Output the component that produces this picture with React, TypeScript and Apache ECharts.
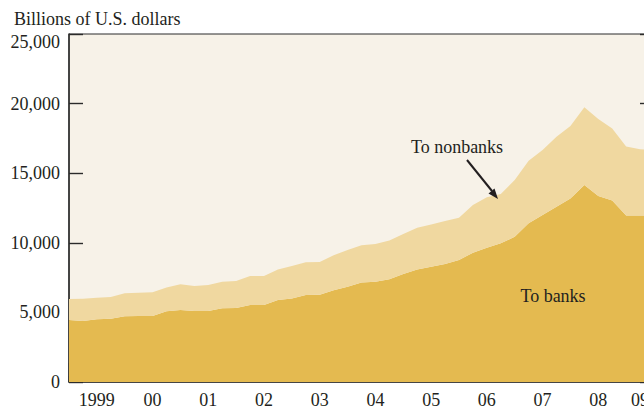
import React, { useEffect, useRef } from "react";
import * as echarts from "echarts";

// Quarterly observations, 1999 Q1 .. 2009 Q3 boundary (43 points)
const quarters: string[] = [];
for (let y = 1999; y <= 2009; y++) {
  for (let q = 1; q <= 4; q++) quarters.push(`${y} Q${q}`);
}
const categories = quarters.slice(0, 43);

const yearLabels = ["1999", "00", "01", "02", "03", "04", "05", "06", "07", "08", "09"];

const toBanks = [
  4450, 4380, 4500, 4550, 4720, 4740, 4740, 5080, 5170, 5100, 5100, 5290, 5320, 5530, 5530,
  5890, 5990, 6250, 6270, 6590, 6850, 7140, 7210, 7380, 7760, 8090, 8280, 8480, 8760, 9290,
  9650, 9960, 10440, 11400, 12000, 12590, 13190, 14150, 13360, 13030, 11970, 11970, 11950,
];

const toNonbanks = [
  1510, 1600, 1550, 1560, 1650, 1670, 1700, 1700, 1850, 1800, 1870, 1910, 1940, 2080, 2080,
  2200, 2350, 2350, 2350, 2510, 2630, 2680, 2710, 2780, 2870, 2990, 3040, 3090, 3040, 3430,
  3620, 3550, 4070, 4500, 4670, 5030, 5200, 5580, 5530, 5190, 4940, 4750, 4700,
];

const yTicks = [0, 5000, 10000, 15000, 20000, 25000];

const FONT = "'Liberation Serif', 'DejaVu Serif', serif";
const INK = "#231f20";
const FS = 18;

export default function App() {
  const ref = useRef<HTMLDivElement>(null);

  useEffect(() => {
    if (!ref.current) return;
    const chart = echarts.init(ref.current, undefined, { renderer: "svg" });
    const fmt = (v: number) => v.toLocaleString("en-US");
    chart.setOption({
      animation: false,
      title: {
        text: "Billions of U.S. dollars",
        left: 9,
        top: 5,
        textStyle: { fontFamily: FONT, fontSize: FS, fontWeight: "normal", color: INK },
      },
      grid: {
        left: 69,
        right: 16,
        top: 34,
        bottom: 27,
        show: true,
        backgroundColor: "#f7f2e8",
        borderColor: "#2b2b2b",
        borderWidth: 1,
      },
      xAxis: [
        {
          type: "category",
          data: categories,
          boundaryGap: false,
          axisLine: { lineStyle: { color: "#2b2b2b", width: 1.5 } },
          axisTick: {
            inside: true,
            length: 19,
            interval: (i: number) => i % 4 === 0,
            lineStyle: { color: "#2b2b2b", width: 1.4 },
          },
          axisLabel: {
            interval: (i: number) => (i < 40 ? i % 4 === 2 : i === 41),
            formatter: (_v: string, i: number) => yearLabels[Math.floor(i / 4)],
            fontFamily: FONT,
            fontSize: FS,
            color: INK,
            margin: 9,
          },
          splitLine: { show: false },
        },
        {
          type: "category",
          data: categories,
          boundaryGap: false,
          position: "bottom",
          axisLine: { show: false },
          axisTick: {
            inside: true,
            length: 6,
            interval: 0,
            lineStyle: { color: "#2b2b2b", width: 1.4 },
          },
          axisLabel: { show: false },
          splitLine: { show: false },
        },
      ],
      yAxis: [
        {
          type: "value",
          min: 0,
          max: 25000,
          interval: 5000,
          axisLine: { show: true, lineStyle: { color: "#2b2b2b", width: 1.5 } },
          axisTick: { show: true, inside: true, length: 14, lineStyle: { color: "#2b2b2b", width: 1.4 } },
          splitLine: { show: false },
          axisLabel: {
            fontFamily: FONT,
            fontSize: FS,
            color: INK,
            margin: 9,
            formatter: (v: number) => (v === yTicks[yTicks.length - 1] ? `{top|${fmt(v)}}` : fmt(v)),
            rich: {
              top: { fontFamily: FONT, fontSize: FS, color: INK, padding: [16, 0, 0, 0] },
            },
          },
        },
        {
          type: "value",
          min: 0,
          max: 25000,
          interval: 5000,
          position: "right",
          axisLine: { show: false },
          axisTick: { show: true, inside: true, length: 14, lineStyle: { color: "#2b2b2b", width: 1.4 } },
          splitLine: { show: false },
          axisLabel: { show: false },
        },
      ],
      series: [
        {
          name: "To banks",
          type: "line",
          stack: "total",
          data: toBanks,
          symbol: "none",
          lineStyle: { width: 0 },
          areaStyle: { color: "#e4ba50", opacity: 1 },
          z: 2,
        },
        {
          name: "To nonbanks",
          type: "line",
          stack: "total",
          data: toNonbanks,
          symbol: "none",
          lineStyle: { width: 0 },
          areaStyle: { color: "#f0d8a0", opacity: 1 },
          z: 2,
        },
      ],
      graphic: [
        {
          type: "text",
          x: 457,
          y: 147,
          z: 10,
          style: {
            text: "To nonbanks",
            font: `${FS}px ${FONT}`,
            fill: INK,
            textAlign: "center",
            textVerticalAlign: "middle",
          },
        },
        {
          type: "text",
          x: 553,
          y: 296,
          z: 10,
          style: {
            text: "To banks",
            font: `${FS}px ${FONT}`,
            fill: INK,
            textAlign: "center",
            textVerticalAlign: "middle",
          },
        },
        {
          type: "line",
          z: 10,
          shape: { x1: 467, y1: 160, x2: 492, y2: 191 },
          style: { stroke: INK, lineWidth: 2 },
        },
        {
          type: "polygon",
          z: 10,
          shape: { points: [[498, 199], [488.5, 193.5], [494.5, 188.5]] },
          style: { fill: INK },
        },
      ],
    });
    return () => chart.dispose();
  }, []);

  return (
    <div style={{ position: "absolute", left: 0, top: 0, width: 644, height: 409, overflow: "hidden", background: "#fff" }}>
      <div ref={ref} style={{ width: 670, height: 409 }} />
    </div>
  );
}
